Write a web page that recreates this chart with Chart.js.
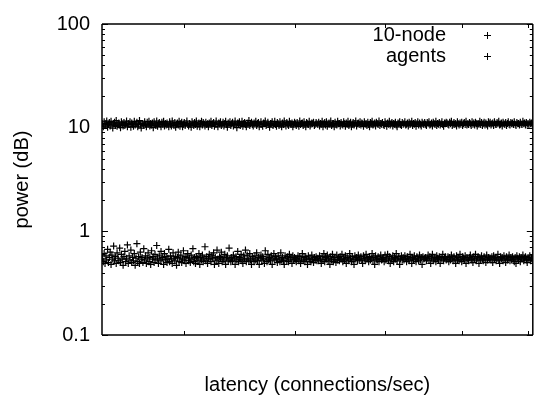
<!DOCTYPE html>
<html>
<head>
<meta charset="utf-8">
<script src="https://cdn.jsdelivr.net/npm/chart.js@4/dist/chart.umd.min.js"></script>
<style>
html,body{margin:0;padding:0;background:#fff;}
#c{display:block;}
</style>
</head>
<body>
<canvas id="c" width="538" height="399"></canvas>
<script>
// ---- data ----
const seriesNames = ["10-node", "agents"];
const xRange = [3.39, 8.075];          // latency axis extent (log)
const xTicks = [4, 5, 6, 7, 8];
const yTicks = [0.1, 1, 10, 100];
const yTickLabels = ["0.1", "1", "10", "100"];

const node10 = [
10.9,10.2,11.4,10.6,11.0,11.6,10.1,10.7,11.2,10.4,11.5,10.8,9.9,10.9,11.3,10.5,11.7,10.3,10.8,11.1,10.6,10.0,11.4,10.9,10.4,
11.2,10.5,10.8,11.6,10.2,11.0,10.7,11.4,10.1,11.1,10.8,10.3,11.5,10.6,10.9,11.3,10.2,10.8,11.7,10.7,9.9,11.0,10.9,10.5,11.4,
10.8,10.2,11.3,10.7,11.5,10.4,11.0,10.6,11.1,10.0,11.4,10.8,10.5,11.6,10.3,10.9,11.2,10.7,10.2,11.3,10.8,11.5,10.4,11.0,10.6,
11.1,10.7,10.2,11.4,10.8,10.4,11.6,10.9,10.5,11.2,10.1,10.8,11.1,10.6,11.5,10.3,11.0,11.3,10.2,10.8,11.2,10.5,10.9,11.6,10.7,
10.4,11.0,10.8,10.1,11.4,10.9,10.5,11.2,10.7,11.6,10.3,10.8,11.1,10.2,11.0,11.5,10.6,11.2,10.8,10.4,11.3,10.7,10.9,10.2,11.1,
10.8,11.5,10.5,10.9,11.2,10.3,10.8,11.6,10.7,10.2,11.1,10.9,11.4,10.5,10.8,11.3,10.4,11.0,11.5,10.7,10.1,11.1,10.8,11.4,10.5,
10.9,11.3,10.4,10.8,11.6,10.7,10.0,11.1,10.9,11.4,10.5,10.8,11.5,10.3,11.0,11.2,10.7,10.2,11.1,10.8,11.7,10.5,10.9,11.3,10.7,
10.4,11.1,10.8,11.5,10.5,11.0,11.2,10.2,10.8,11.4,10.7,10.3,11.1,10.9,11.6,10.5,10.8,11.3,10.7,10.1,11.0,10.9,11.4,10.5,10.8,
11.5,10.7,10.3,11.2,10.9,10.5,11.4,10.8,10.2,11.1,10.7,11.6,10.9,10.4,11.2,10.8,10.5,11.5,10.9,10.7,11.1,10.2,10.8,11.3,10.9,
10.5,11.2,10.8,10.3,11.6,10.7,11.0,11.1,10.5,11.4,10.8,10.2,11.2,10.9,10.7,11.5,10.4,10.8,11.1,10.9,11.3,10.5,10.8,11.2,10.9,
10.7,11.3,10.4,11.0,10.8,11.5,10.2,10.9,11.2,10.6,11.4,10.3,10.8,11.1,10.7,11.6,10.5,10.9,11.0,10.2,11.3,10.8,10.6,11.5,10.9,
11.0,10.4,11.2,10.8,10.6,11.4,10.9,10.3,11.1,10.7,11.5,10.5,10.9,11.3,10.2,10.8,11.2,10.6,11.0,11.6,10.4,10.9,11.1,10.7,11.4,
10.6,11.1,10.9,10.3,11.4,10.8,11.0,10.5,11.3,10.7,10.2,11.2,10.9,11.5,10.6,10.8,11.1,10.4,11.3,10.9,10.7,11.6,10.5,11.0,10.8,
11.2,10.7,10.5,11.4,10.9,10.3,11.1,10.8,11.5,10.6,10.9,11.2,10.4,11.0,10.8,11.3,10.6,10.2,11.1,10.9,11.4,10.7,10.5,11.2,10.8,
10.9,11.4,10.6,10.8,11.1,10.4,11.3,10.7,10.9,11.5,10.5,11.0,10.8,11.2,10.3,10.9,11.4,10.6,11.1,10.8,10.4,11.3,10.9,10.7,11.2,
10.8,10.5,11.2,10.9,11.4,10.6,10.8,11.1,10.4,11.3,10.9,10.7,11.5,10.5,11.0,10.8,11.2,10.6,10.9,11.4,10.7,10.3,11.1,10.9,11.3,
11.1,10.8,10.6,11.3,10.9,11.5,10.5,10.8,11.2,10.7,11.0,10.4,11.4,10.9,10.6,11.1,10.8,11.3,10.5,10.9,11.2,10.7,11.5,10.6,10.9,
10.7,11.2,10.9,10.5,11.4,10.8,11.1,10.6,11.3,10.9,10.4,11.0,10.8,11.5,10.7,11.2,10.5,10.9,11.3,10.6,11.1,10.8,10.4,11.4,10.9,
11.3,10.6,10.9,11.1,10.5,11.4,10.8,10.7,11.2,10.9,11.5,10.6,10.8,11.1,10.4,11.3,10.9,10.7,11.2,10.5,11.0,11.4,10.8,10.6,11.2,
10.9,11.1,10.7,11.4,10.8,10.5,11.2,10.9,11.0,10.6,11.3,10.8,10.7,11.5,10.9,11.1,10.6,11.2,10.8,11.0,10.7,11.3,10.9,11.1,10.8
];

const agents = [
0.55,0.51,0.61,0.49,0.58,0.53,0.67,0.50,0.56,0.63,0.48,0.59,0.54,0.72,0.52,0.57,0.49,0.62,0.55,0.52,0.69,0.50,0.60,0.54,0.47,
0.57,0.64,0.51,0.55,0.74,0.49,0.58,0.53,0.66,0.50,0.56,0.52,0.61,0.47,0.55,0.76,0.51,0.57,0.49,0.63,0.54,0.56,0.50,0.68,0.53,
0.58,0.49,0.55,0.62,0.51,0.56,0.48,0.65,0.54,0.57,0.50,0.60,0.53,0.73,0.55,0.49,0.58,0.52,0.64,0.54,0.56,0.48,0.61,0.53,0.57,
0.50,0.55,0.67,0.51,0.58,0.54,0.49,0.62,0.55,0.52,0.57,0.47,0.56,0.63,0.51,0.55,0.59,0.50,0.54,0.65,0.52,0.57,0.49,0.56,0.61,
0.52,0.55,0.50,0.59,0.54,0.68,0.51,0.56,0.49,0.57,0.55,0.52,0.61,0.48,0.56,0.53,0.59,0.51,0.55,0.71,0.52,0.57,0.49,0.55,0.60,
0.54,0.51,0.58,0.55,0.62,0.48,0.56,0.52,0.66,0.54,0.49,0.57,0.55,0.63,0.51,0.56,0.53,0.60,0.48,0.55,0.58,0.52,0.69,0.54,0.51,
0.56,0.52,0.59,0.55,0.48,0.57,0.53,0.64,0.51,0.56,0.54,0.60,0.52,0.49,0.58,0.54,0.66,0.51,0.59,0.55,0.52,0.61,0.53,0.48,0.57,
0.55,0.51,0.58,0.53,0.62,0.52,0.56,0.48,0.55,0.59,0.52,0.57,0.54,0.49,0.65,0.55,0.51,0.60,0.53,0.56,0.52,0.58,0.48,0.55,0.61,
0.53,0.57,0.54,0.50,0.58,0.55,0.51,0.62,0.53,0.56,0.52,0.48,0.58,0.55,0.52,0.57,0.51,0.60,0.54,0.56,0.49,0.58,0.53,0.56,0.54,
0.51,0.55,0.58,0.52,0.57,0.49,0.54,0.61,0.52,0.56,0.51,0.57,0.54,0.48,0.58,0.53,0.55,0.51,0.59,0.54,0.50,0.56,0.53,0.57,0.52,
0.55,0.52,0.58,0.54,0.49,0.57,0.53,0.61,0.51,0.56,0.54,0.59,0.52,0.55,0.48,0.57,0.53,0.60,0.51,0.56,0.54,0.50,0.59,0.53,0.56,
0.52,0.57,0.54,0.60,0.51,0.55,0.53,0.58,0.49,0.56,0.54,0.52,0.61,0.55,0.51,0.57,0.53,0.48,0.58,0.54,0.56,0.52,0.59,0.53,0.55,
0.57,0.53,0.49,0.58,0.55,0.52,0.60,0.54,0.56,0.51,0.57,0.53,0.55,0.61,0.52,0.56,0.48,0.58,0.54,0.53,0.57,0.51,0.55,0.59,0.53,
0.54,0.56,0.51,0.59,0.53,0.55,0.60,0.52,0.57,0.49,0.55,0.53,0.58,0.51,0.56,0.54,0.61,0.52,0.55,0.57,0.48,0.54,0.58,0.53,0.56,
0.53,0.58,0.55,0.51,0.57,0.54,0.52,0.60,0.55,0.49,0.56,0.53,0.58,0.54,0.51,0.57,0.55,0.52,0.59,0.53,0.56,0.48,0.57,0.54,0.55,
0.56,0.52,0.55,0.59,0.53,0.57,0.49,0.55,0.60,0.52,0.56,0.54,0.51,0.58,0.55,0.53,0.57,0.49,0.56,0.54,0.60,0.52,0.55,0.57,0.53,
0.54,0.57,0.51,0.56,0.53,0.59,0.55,0.52,0.57,0.54,0.49,0.58,0.53,0.56,0.52,0.60,0.54,0.51,0.57,0.55,0.53,0.58,0.49,0.56,0.54,
0.52,0.56,0.59,0.53,0.55,0.50,0.57,0.54,0.60,0.52,0.55,0.57,0.49,0.56,0.53,0.58,0.54,0.52,0.57,0.55,0.50,0.59,0.53,0.56,0.54,
0.55,0.53,0.57,0.50,0.58,0.54,0.56,0.52,0.55,0.60,0.53,0.49,0.57,0.54,0.56,0.52,0.58,0.55,0.50,0.57,0.53,0.55,0.59,0.52,0.56,
0.53,0.57,0.54,0.51,0.56,0.49,0.58,0.55,0.53,0.57,0.51,0.56,0.54,0.59,0.52,0.55,0.57,0.53,0.50,0.56,0.54,0.58,0.52,0.55,0.53
];

// sample positions along the latency axis (samples evenly spread across the log axis)
function toPoints(vals) {
  const n = vals.length, r = xRange[1] / xRange[0];
  return vals.map((v, i) => ({ x: xRange[0] * Math.pow(r, (i + 0.5) / n), y: v }));
}

const FONT = "'Liberation Sans', Arial, Helvetica, sans-serif";

const framePlugin = {
  id: 'frame',
  afterDatasetsDraw(chart) {
    const { ctx, chartArea: a, scales: { x, y } } = chart;
    ctx.save();
    ctx.strokeStyle = '#000';
    ctx.lineWidth = 1.5;
    ctx.beginPath();
    ctx.moveTo(a.left, a.top); ctx.lineTo(a.right, a.top);
    ctx.moveTo(a.left, a.top); ctx.lineTo(a.left, a.bottom);
    ctx.moveTo(a.left, a.bottom); ctx.lineTo(a.right, a.bottom);
    ctx.moveTo(a.right, a.top); ctx.lineTo(a.right, a.bottom);
    ctx.stroke();
    ctx.lineWidth = 1;
    ctx.beginPath();
    y.ticks.forEach(t => {
      const py = Math.round(y.getPixelForValue(t.value)) + 0.5;
      const lg = Math.log10(t.value);
      const major = Math.abs(lg - Math.round(lg)) < 1e-6;
      const len = major ? 6 : 3;
      ctx.moveTo(a.left, py); ctx.lineTo(a.left + len, py);
      ctx.moveTo(a.right, py); ctx.lineTo(a.right - len, py);
    });
    x.ticks.forEach(t => {
      const px = Math.round(x.getPixelForValue(t.value)) + 0.5;
      ctx.moveTo(px, a.bottom); ctx.lineTo(px, a.bottom - 4);
      ctx.moveTo(px, a.top); ctx.lineTo(px, a.top + 4);
    });
    ctx.stroke();
    ctx.restore();
  }
};

const legendPlugin = {
  id: 'gpLegend',
  afterDatasetsDraw(chart) {
    const { ctx } = chart;
    ctx.save();
    ctx.font = '20px ' + FONT;
    ctx.fillStyle = '#000';
    ctx.textAlign = 'right';
    ctx.textBaseline = 'middle';
    const rows = [35, 56];
    chart.data.datasets.forEach((ds, i) => {
      ctx.fillText(ds.label, 446, rows[i]);
      ctx.strokeStyle = '#000';
      ctx.lineWidth = 1;
      ctx.beginPath();
      ctx.moveTo(484, rows[i] + 0.5); ctx.lineTo(491, rows[i] + 0.5);
      ctx.moveTo(487.5, rows[i] - 3); ctx.lineTo(487.5, rows[i] + 4);
      ctx.stroke();
    });
    ctx.restore();
  }
};

new Chart(document.getElementById('c'), {
  type: 'scatter',
  data: {
    datasets: [
      { label: seriesNames[0], data: toPoints(node10), pointStyle: 'cross', pointRadius: 3.5,
        borderColor: '#000', backgroundColor: '#000', borderWidth: 1.2 },
      { label: seriesNames[1], data: toPoints(agents), pointStyle: 'cross', pointRadius: 3.5,
        borderColor: '#000', backgroundColor: '#000', borderWidth: 1.2 }
    ]
  },
  options: {
    responsive: false,
    animation: false,
    devicePixelRatio: 1,
    layout: { padding: { top: 20, right: 0, left: 0, bottom: 0 } },
    plugins: { legend: { display: false }, tooltip: { enabled: false } },
    scales: {
      x: {
        type: 'logarithmic',
        min: xRange[0], max: xRange[1],
        afterBuildTicks: s => { s.ticks = xTicks.map(v => ({ value: v })); },
        ticks: { display: false },
        grid: { display: false, drawTicks: false },
        border: { display: false },
        title: { display: true, text: 'latency (connections/sec)', color: '#000',
                 font: { family: FONT, size: 20 }, padding: { top: 0, bottom: 2 } },
        afterFit: s => { s.height = 64; }
      },
      y: {
        type: 'logarithmic',
        min: 0.1, max: 100,
        afterBuildTicks: s => {
          const t = [];
          for (let e = -1; e <= 2; e++) {
            for (let m = 1; m <= 9; m++) {
              const v = +(m * Math.pow(10, e)).toPrecision(3);
              if (v <= 100) t.push({ value: v });
            }
          }
          s.ticks = t;
        },
        ticks: {
          autoSkip: false,
          color: '#000',
          font: { family: FONT, size: 20 },
          padding: 12,
          callback: v => {
            const k = yTicks.findIndex(t => Math.abs(t - v) < 1e-9);
            return k >= 0 ? yTickLabels[k] : '';
          }
        },
        grid: { display: false, drawTicks: false },
        border: { display: false },
        title: { display: true, text: 'power (dB)', color: '#000',
                 font: { family: FONT, size: 20 }, padding: { top: 10, bottom: 0 } },
        afterFit: s => { s.width = 102; }
      }
    }
  },
  plugins: [framePlugin, legendPlugin]
});
</script>
</body>
</html>
